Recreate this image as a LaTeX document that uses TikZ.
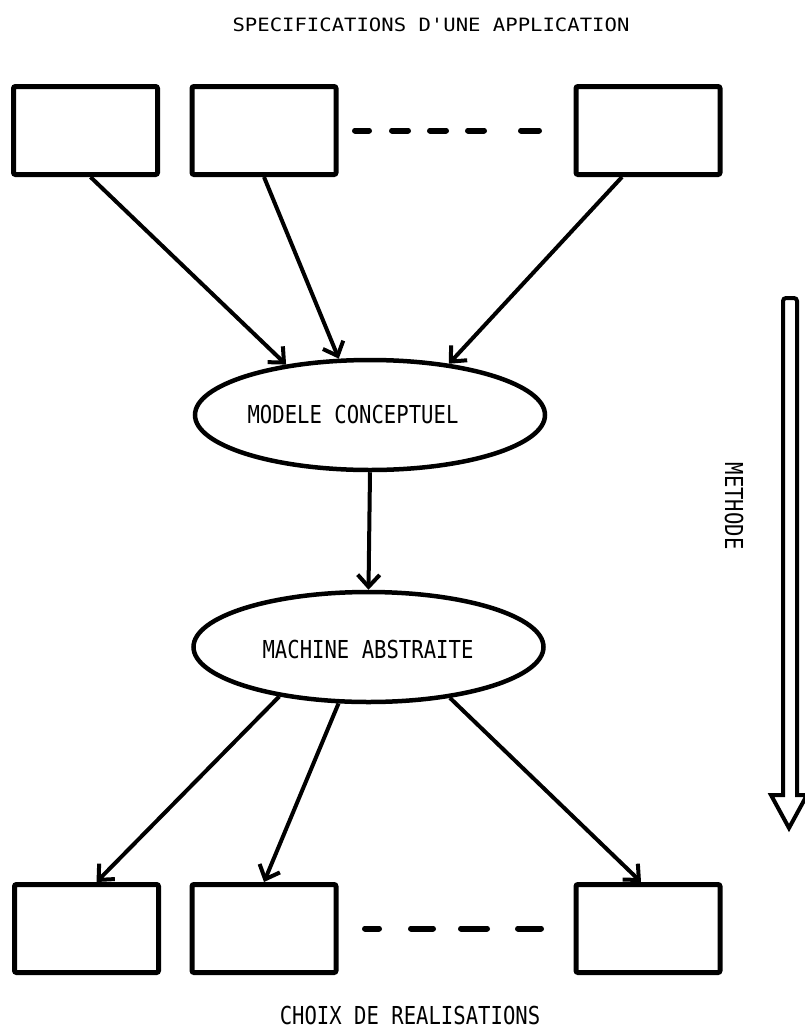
\documentclass[tikz,border=0pt]{standalone}
\usepackage{fontspec}
\newfontfamily\plotfont{DejaVu Sans Mono}
\usetikzlibrary{arrows.meta,shapes.geometric}

\tikzset{
  frame/.style={draw, line width=5pt, rounded corners=2pt, minimum width=144pt,
    minimum height=88pt, inner sep=0pt},
  oval/.style={draw, ellipse, line width=4.5pt, minimum width=350pt,
    minimum height=110pt, inner sep=0pt},
  conn/.style={line width=4pt, -{Straight Barb[length=12pt,width=22pt]}},
  etc/.style={line width=6pt, line cap=round},
  caption/.style={font=\plotfont\fontsize{20.6pt}{24pt}\selectfont, inner sep=0pt, anchor=base},
  hollow/.style={line width=4pt, line join=miter}
}

\begin{document}
\begin{tikzpicture}[x=1pt,y=-1pt]
  % page
  \fill[white] (0,0) rectangle (804,1031);
  \useasboundingbox (0,0) rectangle (804,1031);

  % captions
  \node[caption] (title) at (431,31) {\scalebox{1}[0.89]{SPECIFICATIONS D'UNE APPLICATION}};
  \node[caption] (foot) at (410,1024) {\scalebox{1}[1.2]{CHOIX DE REALISATIONS}};

  % specification boxes
  \node[frame] (t1) at (85.5,130.5) {};
  \node[frame] (t2) at (264,130.5) {};
  \node[frame] (t3) at (648,130.5) {};
  \draw[etc, dash pattern=on 14pt off 23pt on 16pt off 22pt on 16pt off 22pt on 16pt off 37pt on 18pt]
    ([xshift=16.5pt]t2.east) -- ([xshift=-34.5pt]t3.west);

  % conceptual model and abstract machine
  \node[oval] (e1) at (370,415) {};
  \node[caption] (e1txt) at (353,423) {\scalebox{1}[1.2]{MODELE CONCEPTUEL}};
  \node[oval] (e2) at (368.5,647) {};
  \node[caption] (e2txt) at (368,658) {\scalebox{1}[1.2]{MACHINE ABSTRAITE}};

  % realisation boxes
  \node[frame] (b1) at (86.5,928.5) {};
  \node[frame] (b2) at (264,928.5) {};
  \node[frame] (b3) at (648,928.5) {};
  \draw[etc, dash pattern=on 14pt off 32pt on 22pt off 28pt on 26pt off 31pt on 23pt]
    ([xshift=26.5pt]b2.east) -- ([xshift=-32.5pt]b3.west);

  % connectors
  \draw[conn] ([xshift=5pt]t1.south) -- (e1.149);
  \draw[conn] (t2.south) -- (e1.119);
  \draw[conn] ([xshift=-26pt]t3.south) -- (e1.33);
  \draw[conn] (e1.south) -- (e2.north);
  \draw[conn] (e2.209) -- ([xshift=10pt]b1.north);
  \draw[conn] (e2.242) -- (b2.north);
  \draw[conn] (e2.328) -- ([xshift=-7pt]b3.north);

  % method arrow
  \draw[hollow] (783,795) -- (783,300) [rounded corners=3pt] -- (783,298) -- (797,298) [sharp corners] -- (797,795)
    -- (807,795) -- (789,828) -- (771,795) -- cycle;
  \node[caption, rotate=-90] (meth) at (725,506) {\scalebox{1}[1.2]{METHODE}};
\end{tikzpicture}
\end{document}
